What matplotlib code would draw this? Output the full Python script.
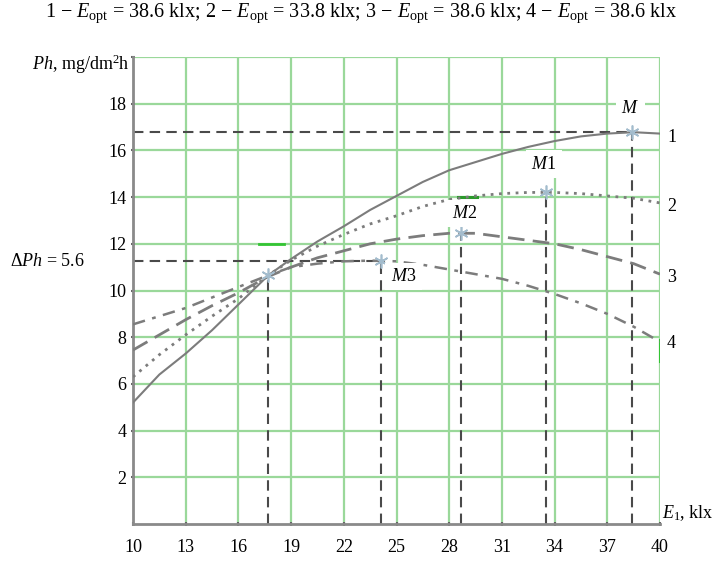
import numpy as np
import matplotlib
matplotlib.use('Agg')
import matplotlib.pyplot as plt

plt.rcParams['font.family'] = ['Liberation Serif', 'DejaVu Serif']
plt.rcParams['mathtext.fontset'] = 'custom'
plt.rcParams['mathtext.rm'] = 'Liberation Serif'
plt.rcParams['mathtext.it'] = 'Liberation Serif:italic'

# illumination E1, klx
e1 = [10, 11.5, 13, 14.5, 16, 17.7, 19, 20.5, 22, 23.5, 25, 26.5, 28, 29.5,
      31, 32.5, 34, 35.5, 37, 38.5, 40]
ph_1 = [5.2, 6.4, 7.3, 8.3, 9.4, 10.65, 11.35, 12.1, 12.75, 13.45, 14.05,
        14.65, 15.15, 15.5, 15.85, 16.15, 16.4, 16.6, 16.72, 16.78, 16.72]
ph_2 = [6.3, 7.25, 8.1, 8.9, 9.65, 10.65, 11.3, 11.9, 12.4, 12.85, 13.2,
        13.6, 13.9, 14.05, 14.15, 14.2, 14.2, 14.15, 14.05, 13.95, 13.75]
ph_3 = [7.45, 8.1, 8.75, 9.35, 9.9, 10.6, 11.0, 11.4, 11.7, 12.0, 12.2,
        12.35, 12.45, 12.45, 12.3, 12.15, 12.0, 11.75, 11.45, 11.15, 10.7]
ph_4 = [8.55, 8.9, 9.25, 9.7, 10.15, 10.65, 11.0, 11.15, 11.25, 11.28, 11.25,
        11.1, 10.9, 10.7, 10.5, 10.2, 9.85, 9.45, 9.0, 8.45, 7.8]

# maxima M, M1, M2, M3 and the common crossing point
max_names = ['$M$', '$M$1', '$M$2', '$M$3']
max_x = [38.4, 33.5, 28.7, 24.1]
max_y = [16.78, 14.2, 12.45, 11.25]
label_x = [38.3, 33.4, 28.9, 25.4]
label_y = [17.8, 15.4, 13.3, 10.6]
cross_x, cross_y = 17.7, 10.65

curve_names = ['1', '2', '3', '4']
curve_end_y = [16.55, 13.6, 10.55, 7.75]

x_ticks = [10, 13, 16, 19, 22, 25, 28, 31, 34, 37, 40]
y_ticks = [2, 4, 6, 8, 10, 12, 14, 16, 18, 20]

fig = plt.figure(figsize=(7.22, 5.62), dpi=100)
ax = fig.add_axes([133 / 722, 1 - 524 / 562, 527 / 722, 467 / 562])

grid_green = '#9ad89a'
for x in x_ticks[1:]:
    ax.axvline(x, color=grid_green, lw=1.6, zorder=0)
for y in y_ticks:
    ax.axhline(y, color=grid_green, lw=1.6, zorder=0)

# odd bright-green bits in the scan
ax.plot([17.2, 18.6], [12, 12], color='#33c433', lw=2, zorder=1)
ax.plot([28.5, 29.6], [14, 14], color='#2a9a2a', lw=2.2, zorder=1)
ax.plot([40, 40], [7.0, 7.9], color='#33c433', lw=2.2, zorder=1)

curve_gray = '#7c7c7c'
ax.plot(e1, ph_1, color=curve_gray, lw=1.5, zorder=3)
ax.plot(e1, ph_2, color=curve_gray, lw=2, ls=(0, (1, 2)), zorder=3)
ax.plot(e1, ph_3, color=curve_gray, lw=2, ls=(0, (6, 3)), zorder=3)
ax.plot(e1, ph_4, color=curve_gray, lw=1.8, ls=(0, (5, 3, 1.5, 3)), zorder=3)

ref_style = dict(color='#4a4a4a', lw=1.5, ls=(0, (5, 3)), zorder=2)
ax.plot([10, max_x[0]], [max_y[0], max_y[0]], **ref_style)
ax.plot([10, max_x[3]], [max_y[3], max_y[3]], **ref_style)
for x, y in zip(max_x, max_y):
    ax.plot([x, x], [0, y], **ref_style)
ax.plot([cross_x, cross_x], [0, cross_y], **ref_style)

ax.plot(max_x + [cross_x], max_y + [cross_y], ls='none', marker=(6, 2, 0),
        ms=10, mew=1.2, color='#a3bccd', zorder=4)

for name, x, y in zip(max_names, label_x, label_y):
    ax.text(x, y, name, fontsize=13, ha='center', va='center', zorder=5,
            bbox=dict(boxstyle='square,pad=0.3', fc='white', ec='none'))

for name, y in zip(curve_names, curve_end_y):
    ax.text(40.4, y, name, fontsize=13, ha='left', va='center', clip_on=False)

ax.set_xlim(10, 40)
ax.set_ylim(0, 20)
ax.set_xticks(x_ticks)
ax.set_yticks(y_ticks)
ax.set_yticklabels([str(v) for v in y_ticks[:-1]] + [''])
ax.tick_params(axis='both', labelsize=13, direction='inout', length=3,
               width=1.5, color='#666666')
ax.tick_params(axis='x', pad=9)
ax.tick_params(axis='y', pad=3)
for side in ['top', 'right']:
    ax.spines[side].set_visible(False)
for side in ['left', 'bottom']:
    ax.spines[side].set_color('#8a8a8a')
    ax.spines[side].set_linewidth(2)

fig.text(130 / 722, 1 - 64 / 562, r'$Ph$, mg/dm$^2$h', fontsize=13,
         ha='right', va='center')
fig.text(662 / 722, 1 - 513 / 562, r'$E_1$, klx', fontsize=13,
         ha='left', va='center')
fig.text(10 / 722, 1 - 262 / 562, r'$\Delta Ph$ = 5.6', fontsize=13,
         ha='left', va='center')
fig.text(0.5, 1 - 13 / 562,
         r'1 $-$ $E_{\rm opt}$ = 38.6 klx; 2 $-$ $E_{\rm opt}$ = 33.8 klx; '
         r'3 $-$ $E_{\rm opt}$ = 38.6 klx; 4 $-$ $E_{\rm opt}$ = 38.6 klx',
         fontsize=14.5, ha='center', va='center')

fig.savefig('out.png', dpi=100)
